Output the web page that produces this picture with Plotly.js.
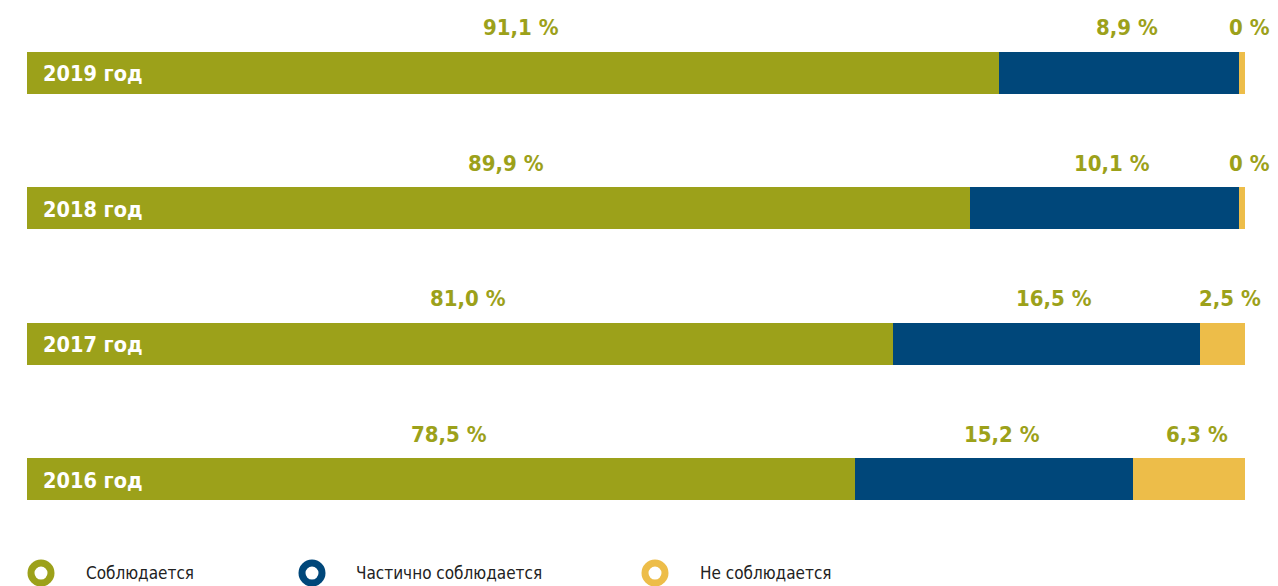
<!DOCTYPE html>
<html>
<head>
<meta charset="utf-8">
<script src="https://cdn.plot.ly/plotly-3.0.1.min.js"></script>
<style>html,body{margin:0;padding:0;background:#fff;}#chart{width:1278px;height:586px;}</style>
</head>
<body>
<div id="chart"></div>
<script>
// Row categories (top to bottom)
const years = ["2019 год", "2018 год", "2017 год", "2016 год"];
// Labelled percentages
const labelCompliant = ["91,1 %", "89,9 %", "81,0 %", "78,5 %"];
const labelPartial   = ["8,9 %", "10,1 %", "16,5 %", "15,2 %"];
const labelNon       = ["0 %", "0 %", "2,5 %", "6,3 %"];
// Drawn segment lengths (share of the full bar, %)
const barCompliant = [79.8, 77.4, 71.1, 68.0];
const barPartial   = [19.7, 22.1, 25.2, 22.8];
const barNon       = [0.5, 0.5, 3.7, 9.2];
const seriesNames = ["Соблюдается", "Частично соблюдается", "Не соблюдается"];
const colors = ["#9CA11A", "#00477A", "#EDBD49"];

const FONT = "'DejaVu Sans Condensed', 'Liberation Sans Narrow', sans-serif";
const bars = [barCompliant, barPartial, barNon];
const labels = [labelCompliant, labelPartial, labelNon];

const traces = bars.map((vals, i) => ({
  type: "bar", orientation: "h", y: years, x: vals, name: seriesNames[i],
  marker: {color: colors[i], line: {width: 0}}, showlegend: false, hoverinfo: "none"
}));

const annotations = [];
years.forEach((yr, r) => {
  let start = 0;
  bars.forEach((vals, i) => {
    const mid = start + vals[r] / 2;
    start += vals[r];
    annotations.push({
      x: mid, y: yr, xref: "x", yref: "y", text: "<b>" + labels[i][r] + "</b>",
      showarrow: false, xanchor: "center", yanchor: "middle", yshift: 45, xshift: 8,
      font: {family: FONT, size: 22, color: "#9CA11A"}
    });
  });
  annotations.push({
    x: 0, y: yr, xref: "x", yref: "y", text: "<b>" + yr + "</b>", showarrow: false,
    xanchor: "left", yanchor: "middle", xshift: 14, yshift: -1,
    font: {family: FONT, size: 21.5, color: "#ffffff"}
  });
});

// Custom legend
const legendX = [41, 312, 655];
const legendTextX = [84, 354, 698];
const shapes = [];
seriesNames.forEach((n, i) => {
  shapes.push({
    type: "circle", xref: "paper", yref: "paper", xsizemode: "pixel", ysizemode: "pixel",
    xanchor: (legendX[i] - 27) / 1218, yanchor: -(573 - 547) / 541,
    x0: -10, x1: 10, y0: -10, y1: 10,
    line: {color: colors[i], width: 7}, fillcolor: "#ffffff"
  });
  annotations.push({
    xref: "paper", yref: "paper", x: (legendTextX[i] - 27) / 1218, y: -(573 - 547) / 541,
    text: n, showarrow: false, xanchor: "left", yanchor: "middle",
    font: {family: FONT, size: 17, color: "#222222"}
  });
});

const layout = {
  width: 1278, height: 586,
  margin: {l: 27, r: 33, t: 5, b: 39},
  paper_bgcolor: "#ffffff", plot_bgcolor: "#ffffff",
  barmode: "stack", bargap: 0.69,
  xaxis: {range: [0, 100], visible: false, fixedrange: true},
  yaxis: {type: "category", categoryorder: "array", categoryarray: years.slice().reverse(),
          visible: false, fixedrange: true},
  showlegend: false,
  annotations: annotations, shapes: shapes
};

Plotly.newPlot("chart", traces, layout, {displayModeBar: false, staticPlot: true});
</script>
</body>
</html>
